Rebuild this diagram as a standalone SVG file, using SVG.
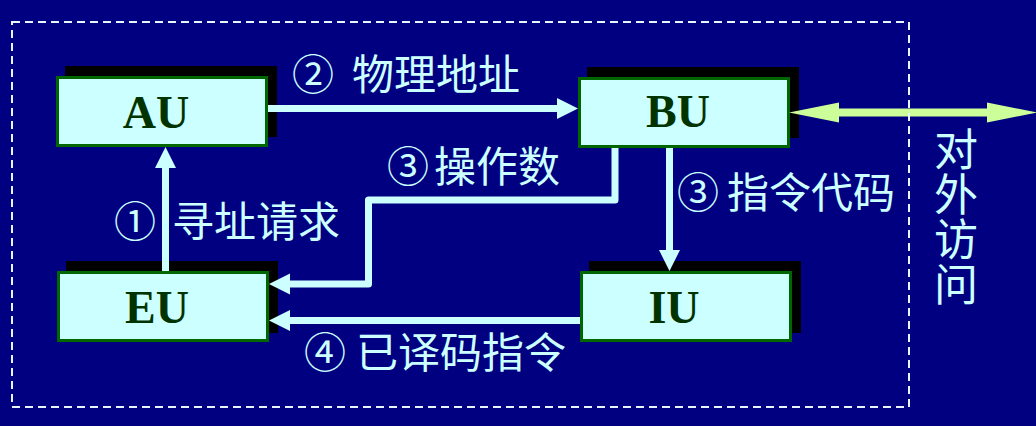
<svg xmlns="http://www.w3.org/2000/svg" width="1036" height="426" viewBox="0 0 1036 426">
<style>
.shadow{fill:#000000}
.box{fill:#CCFFFF;stroke:#006600;stroke-width:3}
.name{font-family:"Liberation Serif","Times New Roman",serif;font-weight:bold;font-size:46px;fill:#003300;text-anchor:middle}
.lbl{font-family:"Noto Sans CJK SC","Noto Sans",sans-serif;font-size:42px;fill:#CCFFFF}
.vlbl{font-family:"Noto Sans CJK SC","Noto Sans",sans-serif;font-size:44px;fill:#CCFFFF;writing-mode:vertical-rl;letter-spacing:1px}
.conn{fill:none;stroke:#CCFFFF;stroke-width:7;stroke-linejoin:round}
.bus{fill:none;stroke:#CCFF99;stroke-width:8}
</style>
<defs>
<marker id="ah" markerUnits="userSpaceOnUse" markerWidth="21" markerHeight="22" refX="0" refY="11" orient="auto" overflow="visible">
<path d="M0,0.5 L21,11 L0,21.5 Z" fill="#CCFFFF"/>
</marker>
<marker id="bh" markerUnits="userSpaceOnUse" markerWidth="50" markerHeight="22" refX="0" refY="11" orient="auto-start-reverse" overflow="visible">
<path d="M0,1 L50,11 L0,21 Z" fill="#CCFF99"/>
</marker>
</defs>
<rect x="0" y="0" width="1036" height="426" fill="#000080"/>

<g id="AU">
<rect class="shadow" x="65" y="66" width="212" height="71"/>
<rect class="box" x="57.5" y="77.5" width="209" height="68"/>
<text class="name" x="156" y="128">AU</text>
</g>
<g id="BU">
<rect class="shadow" x="587" y="67" width="212" height="71"/>
<rect class="box" x="579.5" y="78.5" width="209" height="68"/>
<text class="name" x="678" y="127">BU</text>
</g>
<g id="EU">
<rect class="shadow" x="66" y="261" width="212" height="72"/>
<rect class="box" x="58.5" y="272.5" width="209" height="68"/>
<text class="name" x="157" y="323">EU</text>
</g>
<g id="IU">
<rect class="shadow" x="589" y="261" width="212" height="72"/>
<rect class="box" x="581.5" y="272.5" width="209" height="68"/>
<text class="name" x="674" y="323">IU</text>
</g>

<g id="connectors">
<path class="conn" d="M165.5,271 L165.5,168" marker-end="url(#ah)"/>
<path class="conn" d="M268,108.5 L557,108.5" marker-end="url(#ah)"/>
<path class="conn" d="M615,148 L615,200 L368.5,200 L368.5,284 L290,284" marker-end="url(#ah)"/>
<path class="conn" d="M669.5,148 L669.5,250" marker-end="url(#ah)"/>
<path class="conn" d="M580,320.5 L290,320.5" marker-end="url(#ah)"/>
<path class="bus" d="M839,112.5 L987,112.5" marker-start="url(#bh)" marker-end="url(#bh)"/>
</g>

<g id="labels">
<text class="lbl" y="90"><tspan x="292">②</tspan><tspan x="352">物理地址</tspan></text>
<text class="lbl" y="182"><tspan x="387">③</tspan><tspan x="434">操作数</tspan></text>
<text class="lbl" y="237"><tspan x="114">①</tspan><tspan x="172">寻址请求</tspan></text>
<text class="lbl" y="208"><tspan x="677">③</tspan><tspan x="727">指令代码</tspan></text>
<text class="lbl" y="368"><tspan x="304">④</tspan><tspan x="356">已译码指令</tspan></text>
<text class="vlbl" x="956" y="127">对外访问</text>
</g>

<rect x="12" y="22" width="897" height="385" fill="none" stroke="#E8F4FF" stroke-width="2" stroke-dasharray="8,5"/>
</svg>
